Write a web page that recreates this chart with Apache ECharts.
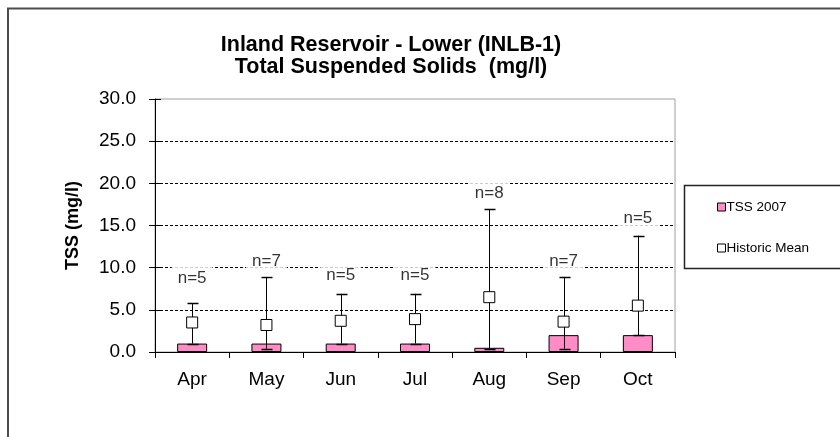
<!DOCTYPE html>
<html>
<head>
<meta charset="utf-8">
<script src="https://cdn.jsdelivr.net/npm/echarts@6/dist/echarts.min.js"></script>
<style>
html,body{margin:0;padding:0;background:#fff;}
#chart{width:840px;height:437px;}
</style>
</head>
<body>
<div id="chart"></div>
<script>
var months = ['Apr','May','Jun','Jul','Aug','Sep','Oct'];
var tss2007 = [1.0, 1.0, 1.0, 1.0, 0.5, 2.0, 2.0];
var historicMean = [3.5, 3.2, 3.7, 3.9, 6.5, 3.6, 5.5];
var historicLow = [1.0, 0.4, 1.0, 1.0, 0.4, 0.4, 2.0];
var historicHigh = [5.8, 8.9, 6.9, 6.9, 16.9, 8.9, 13.8];
var nCounts = [5, 7, 5, 5, 8, 7, 5];
var nLabelLevel = [8.7, 10.7, 9.1, 9.1, 18.8, 10.8, 15.8];
var yTicks = [0, 5, 10, 15, 20, 25, 30];

var chart = echarts.init(document.getElementById('chart'));
var FONT = 'Liberation Sans, Arial, sans-serif';

var errData = months.map(function(m, i){ return [i, historicLow[i], historicHigh[i]]; });
var labelData = months.map(function(m, i){ return [i, nLabelLevel[i], nCounts[i]]; });

var option = {
  animation: false,
  backgroundColor: '#fff',
  textStyle: {fontFamily: FONT},
  title: {
    text: 'Inland Reservoir - Lower (INLB-1)\nTotal Suspended Solids  (mg/l)',
    left: 386, top: 29, textAlign: 'center',
    textStyle: {fontSize: 21.5, fontWeight: 'bold', color: '#000', lineHeight: 22, fontFamily: FONT}
  },
  legend: {
    orient: 'vertical', left: 717, top: 200, padding: 0, itemWidth: 8, itemHeight: 8, itemGap: 27,
    textStyle: {fontSize: 13.5, color: '#000', fontFamily: FONT, padding: [0,0,0,-4]},
    data: [
      {name: 'TSS 2007', icon: 'rect', itemStyle: {color: '#FF8CC6', borderColor: '#000', borderWidth: 1}},
      {name: 'Historic Mean', icon: 'rect', itemStyle: {color: '#fff', borderColor: '#000', borderWidth: 1}}
    ]
  },
  graphic: [
    {type: 'rect', shape: {x: 8, y: 8.5, width: 900, height: 500}, style: {fill: 'none', stroke: '#4d4d4d', lineWidth: 2}, silent: true, z: 0},
    {type: 'rect', shape: {x: 684.5, y: 185.5, width: 200, height: 83}, style: {fill: 'none', stroke: '#222', lineWidth: 1.5}, silent: true, z: 0}
  ],
  grid: {left: 155, right: 165, top: 99, bottom: 85, show: true, borderColor: '#a0a0a0', borderWidth: 1, backgroundColor: '#fff'},
  xAxis: {
    type: 'category', data: months, boundaryGap: true,
    axisLine: {lineStyle: {color: '#000', width: 1}},
    axisTick: {show: true, length: 6, lineStyle: {color: '#000'}},
    axisLabel: {fontSize: 19, color: '#000', margin: 18, fontFamily: FONT}
  },
  yAxis: [
    {
      type: 'value', min: 0, max: 30, interval: 5,
      name: 'TSS (mg/l)', nameLocation: 'middle', nameGap: 73, nameRotate: 90,
      nameTextStyle: {fontSize: 18, fontWeight: 'bold', color: '#000', fontFamily: FONT},
      axisLine: {show: true, lineStyle: {color: '#000', width: 1}},
      axisTick: {show: true, length: 6, lineStyle: {color: '#000'}},
      axisLabel: {fontSize: 19, color: '#000', margin: 19, fontFamily: FONT,
        formatter: function(v){ return yTicks.indexOf(v) >= 0 ? v.toFixed(1) : ''; }},
      splitLine: {show: true, showMaxLine: false, showMinLine: false, lineStyle: {color: '#000', type: [3, 2], width: 1}}
    },
    {
      type: 'value', min: 0, max: 30, interval: 5, position: 'left',
      axisLine: {show: false}, axisLabel: {show: false}, splitLine: {show: false},
      axisTick: {show: true, inside: true, length: 6, lineStyle: {color: '#000'}}
    }
  ],
  series: [
    {
      name: 'TSS 2007', type: 'bar', data: tss2007, barWidth: 30,
      itemStyle: {color: '#FF8CC6', borderColor: '#000', borderWidth: 1}, z: 2
    },
    {
      name: 'range', type: 'custom', data: errData, z: 3,
      encode: {x: 0, y: [1, 2]},
      renderItem: function(params, api){
        var x = api.value(0);
        var lo = api.coord([x, api.value(1)]);
        var hi = api.coord([x, api.value(2)]);
        var cx = Math.round(lo[0]) + 0.5;
        var half = 5;
        var st = {stroke: '#000', lineWidth: 1};
        return {type: 'group', children: [
          {type: 'line', shape: {x1: cx, y1: hi[1], x2: cx, y2: lo[1]}, style: st},
          {type: 'line', shape: {x1: cx - half, y1: Math.round(hi[1]) + 0.5, x2: cx + half + 1, y2: Math.round(hi[1]) + 0.5}, style: {stroke: '#000', lineWidth: 1.5}},
          {type: 'line', shape: {x1: cx - half, y1: Math.round(lo[1]) + 0.5, x2: cx + half + 1, y2: Math.round(lo[1]) + 0.5}, style: {stroke: '#000', lineWidth: 1.5}}
        ]};
      }
    },
    {
      name: 'Historic Mean', type: 'scatter', data: historicMean, symbol: 'rect', symbolSize: 11,
      itemStyle: {color: '#fff', borderColor: '#000', borderWidth: 1, opacity: 1}, z: 4
    },
    {
      name: 'nlabels', type: 'scatter', data: labelData, symbolSize: 0,
      encode: {x: 0, y: 1},
      itemStyle: {color: 'rgba(0,0,0,0)'}, z: 5,
      label: {
        show: true, position: 'inside', fontSize: 17, color: '#000', fontFamily: FONT,
        backgroundColor: '#fff', padding: [6, 6],
        formatter: function(p){ return 'n=' + p.value[2]; }
      }
    }
  ]
};
chart.setOption(option);
</script>
</body>
</html>
